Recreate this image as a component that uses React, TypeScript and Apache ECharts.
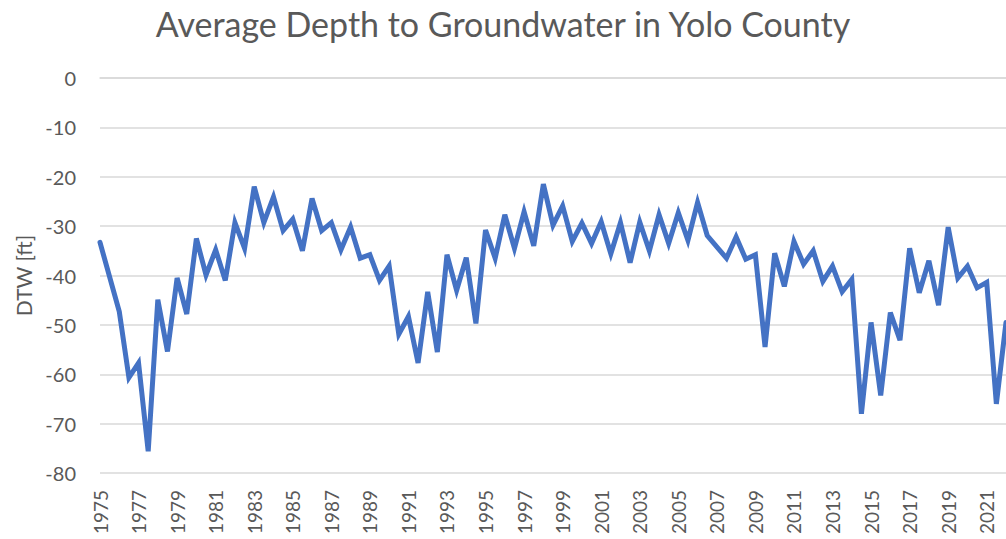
import React, { useEffect, useRef } from "react";
import * as echarts from "echarts";

const TITLE = "Average Depth to Groundwater in Yolo County";
const Y_NAME = "DTW [ft]";
const BASE_YEAR = 1975;
const YEAR_MAX = 2022;
const Y_MIN = -80;
const Y_MAX = 0;
const Y_STEP = 10;
const X_STEP = 2;

const years: number[] = [
  1975.0, 1976.0, 1976.5, 1977.0, 1977.5, 1978.0, 1978.5, 1979.0, 1979.5,
  1980.0, 1980.5, 1981.0, 1981.5, 1982.0, 1982.5, 1983.0, 1983.5, 1984.0,
  1984.5, 1985.0, 1985.5, 1986.0, 1986.5, 1987.0, 1987.5, 1988.0, 1988.5,
  1989.0, 1989.5, 1990.0, 1990.5, 1991.0, 1991.5, 1992.0, 1992.5, 1993.0,
  1993.5, 1994.0, 1994.5, 1995.0, 1995.5, 1996.0, 1996.5, 1997.0, 1997.5,
  1998.0, 1998.5, 1999.0, 1999.5, 2000.0, 2000.5, 2001.0, 2001.5, 2002.0,
  2002.5, 2003.0, 2003.5, 2004.0, 2004.5, 2005.0, 2005.5, 2006.0, 2006.5,
  2007.5, 2008.0, 2008.5, 2009.0, 2009.5, 2010.0, 2010.5, 2011.0, 2011.5,
  2012.0, 2012.5, 2013.0, 2013.5, 2014.0, 2014.5, 2015.0, 2015.5, 2016.0,
  2016.5, 2017.0, 2017.5, 2018.0, 2018.5, 2019.0, 2019.5, 2020.0, 2020.5,
  2021.0, 2021.5, 2022.0,
];

const dtw: number[] = [
  -33.3, -47.3, -60.7, -57.7, -75.6, -44.9, -55.4, -40.5, -47.8,
  -32.5, -39.9, -34.8, -41.0, -29.3, -34.5, -22.0, -29.3, -24.1,
  -30.9, -28.6, -35.0, -24.4, -30.9, -29.3, -34.8, -30.2, -36.5,
  -35.8, -41.0, -38.1, -51.9, -48.3, -57.7, -43.3, -55.5, -35.8,
  -43.0, -36.4, -49.7, -30.8, -36.5, -27.7, -34.5, -27.1, -34.0,
  -21.5, -29.8, -25.9, -33.1, -29.4, -33.5, -29.1, -35.6, -29.3,
  -37.4, -29.2, -35.0, -27.7, -33.5, -27.3, -32.9, -25.2, -31.9,
  -36.5, -32.2, -36.7, -35.8, -54.5, -35.5, -42.2, -33.1, -37.7,
  -35.0, -41.2, -38.1, -43.3, -40.8, -68.0, -49.5, -64.3, -47.5,
  -53.1, -34.5, -43.5, -37.0, -46.0, -30.2, -40.5, -38.1, -42.5,
  -41.4, -66.0, -49.5,
];

const TEXT = "#595959";
const GRID = "#D9D9D9";
const LINE = "#4472C4";
const FONT = "Lato, 'Open Sans', sans-serif";

export default function App() {
  const ref = useRef<HTMLDivElement>(null);
  useEffect(() => {
    if (!ref.current) return;
    const chart = echarts.init(ref.current, undefined, { renderer: "svg" });
    chart.setOption({
      animation: false,
      backgroundColor: "#ffffff",
      title: {
        text: TITLE,
        left: "center",
        top: 1,
        textStyle: { color: TEXT, fontFamily: FONT, fontSize: 34, fontWeight: "normal" },
      },
      grid: { left: 100, right: 0, top: 78, bottom: 66, containLabel: false },
      xAxis: {
        type: "value",
        min: 0,
        max: YEAR_MAX - BASE_YEAR,
        interval: X_STEP,
        axisLine: { show: true, lineStyle: { color: GRID, width: 1.5 } },
        axisTick: { show: false },
        splitLine: { show: false },
        axisLabel: {
          rotate: 90,
          margin: 17,
          color: TEXT,
          fontFamily: FONT,
          fontSize: 19,
          showMaxLabel: false,
          formatter: (v: number) =>
            Number.isInteger(v) && v % X_STEP === 0 ? String(v + BASE_YEAR) : "",
        },
      },
      yAxis: {
        type: "value",
        min: Y_MIN,
        max: Y_MAX,
        interval: Y_STEP,
        name: Y_NAME,
        nameLocation: "middle",
        nameRotate: 90,
        nameGap: 64,
        nameTextStyle: { color: TEXT, fontFamily: FONT, fontSize: 21 },
        axisLine: { show: false },
        axisTick: { show: false },
        splitLine: { show: true, lineStyle: { color: GRID, width: 1.5 } },
        axisLabel: { margin: 24, color: TEXT, fontFamily: FONT, fontSize: 20 },
      },
      series: [
        {
          type: "line",
          data: years.map((y, i) => [y - BASE_YEAR, dtw[i]]),
          showSymbol: false,
          symbol: "none",
          lineStyle: { color: LINE, width: 5, join: "miter", cap: "round" },
          clip: true,
        },
      ],
    });
    return () => chart.dispose();
  }, []);
  return (
    <div
      ref={ref}
      style={{ position: "fixed", left: 0, top: 0, width: 1006, height: 539, background: "#fff" }}
    />
  );
}
